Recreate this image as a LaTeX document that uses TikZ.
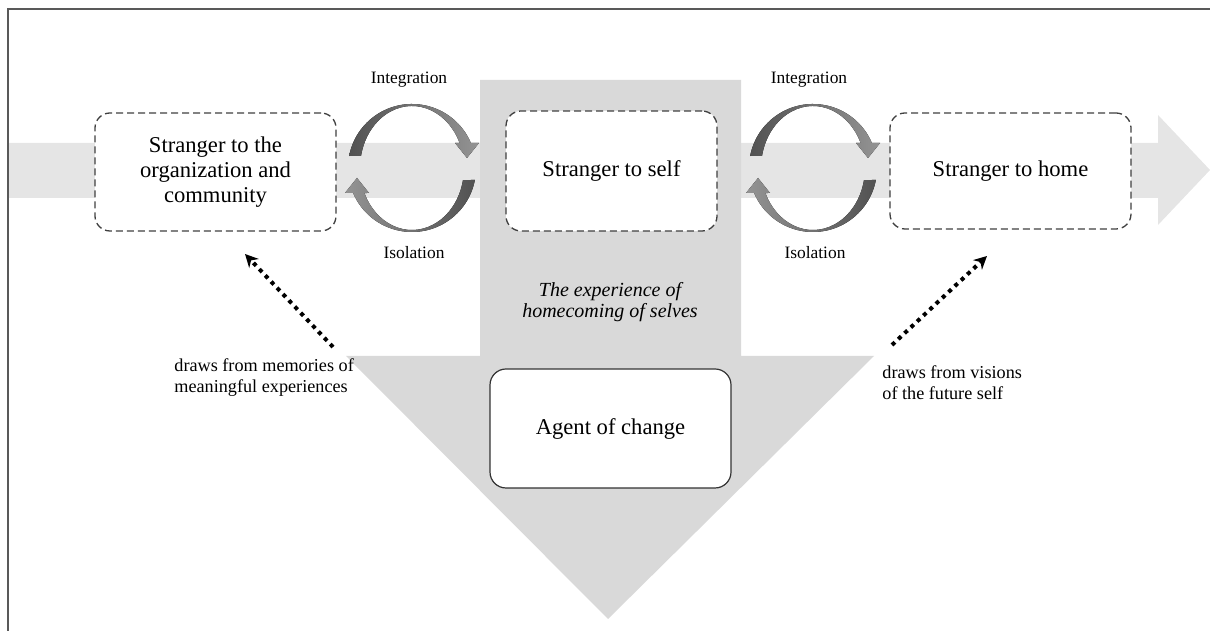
\documentclass[tikz,border=0pt]{standalone}
\usepackage{fontspec}
\setmainfont{Liberation Serif}
\usetikzlibrary{arrows.meta}
\definecolor{bandlight}{HTML}{E5E5E5}
\definecolor{banddark}{HTML}{D9D9D9}
\tikzset{
  box/.style={draw=black!75, dash pattern=on 3.5pt off 2pt, line width=0.65pt, rounded corners=7.5pt, fill=white, align=center, font=\fontsize{11.3}{12.4}\selectfont},
  agent/.style={draw=black!80, line width=0.6pt, rounded corners=8pt, fill=white, minimum width=120.5pt, minimum height=59.5pt, align=center, font=\fontsize{11.3}{12.4}\selectfont},
  tag/.style={inner sep=0pt, font=\fontsize{8.7}{10}\selectfont},
  note/.style={align=left, inner sep=0pt, anchor=west, font=\fontsize{9.1}{10.5}\selectfont},
  hint/.style={-{Stealth[length=6.5pt, width=6.5pt]}, line width=2pt, dash pattern=on 2pt off 2.3pt},
  % one half of the round trip: a crescent with its head
  upper half/.style={left color=black!68, right color=black!42},
  lower half/.style={left color=black!42, right color=black!68},
  turn/.pic={
    \fill[upper half] (169.2:64) arc[start angle=169.2, end angle=23, radius=64]
      -- (67,25) -- (55,10) -- (43,25) -- (23.8:52 and 62)
      arc[start angle=23.8, end angle=168.8, x radius=52, y radius=62] -- cycle;
    \fill[lower half, rotate=180] (169.2:64) arc[start angle=169.2, end angle=23, radius=64]
      -- (67,25) -- (55,10) -- (43,25) -- (23.8:52 and 62)
      arc[start angle=23.8, end angle=168.8, x radius=52, y radius=62] -- cycle;
  }
}

\begin{document}
\begin{tikzpicture}[x=0.5pt, y=0.5pt]
  \useasboundingbox (0,0) rectangle (1210,631);

  % the two wide arrows behind everything
  \fill[bandlight] (8,488) -- (1158,488) -- (1158,516) -- (1210,461) -- (1158,406) -- (1158,433) -- (8,433) -- cycle;
  \fill[banddark] (480,551) -- (741,551) -- (741,275) -- (874,275) -- (608,12) -- (346,275) -- (480,275) -- cycle;
  \draw[black!65, line width=1pt] (1210,622) -- (8,622) -- (8,0);

  \pic at (412,463) {turn};
  \pic at (813,463) {turn};

  \node[box, minimum width=120.5pt, minimum height=59pt] (outsider) at (215.5,459) {Stranger to the\\organization and\\community};
  \node[box, minimum width=105.5pt, minimum height=60pt] (self) at (611.5,460) {Stranger to self};
  \node[box, minimum width=120.5pt, minimum height=58pt] (home) at (1010.5,460) {Stranger to home};
  \node[agent] (agent) at (610.5,202.5) {Agent of change};
  \node[align=center, font=\fontsize{10}{10.8}\selectfont\itshape] (journey) at (610,329) {The experience of\\homecoming of selves};

  \node[tag] (join1) at (409,551) {Integration};
  \node[tag] (apart1) at (414,378) {Isolation};
  \node[tag] (join2) at (809,551) {Integration};
  \node[tag] (apart2) at (815,378) {Isolation};

  \node[note] (memory) at (174,253) {draws from memories of\\meaningful experiences};
  \node[note] (vision) at (882,248) {draws from visions\\of the future self};

  \coordinate (memtail) at (333,284);
  \coordinate (memhead) at (245,377);
  \coordinate (vistail) at (892,286);
  \coordinate (vishead) at (987,375);
  \draw[hint] (memtail) -- (memhead);
  \draw[hint] (vistail) -- (vishead);
\end{tikzpicture}
\end{document}
